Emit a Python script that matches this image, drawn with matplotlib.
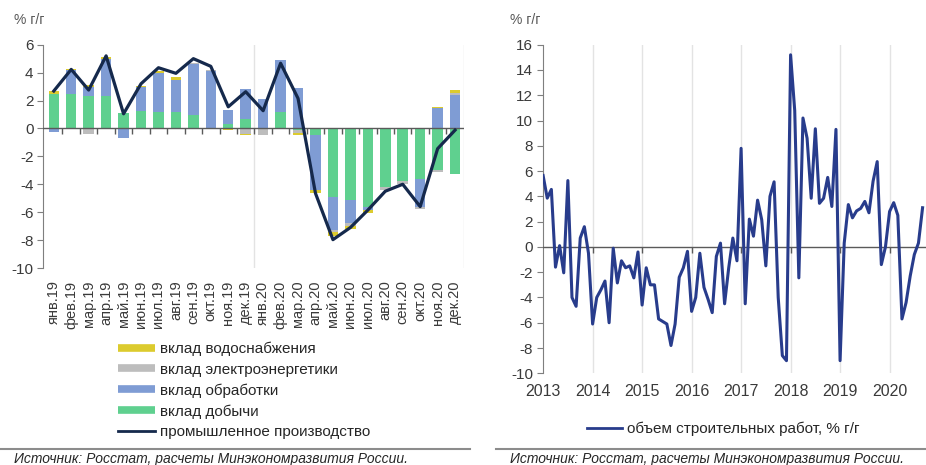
import matplotlib
matplotlib.use("Agg")
import matplotlib.pyplot as plt
from matplotlib.lines import Line2D
import numpy as np

plt.rcParams["font.family"] = ["Liberation Sans", "DejaVu Sans"]
plt.rcParams["axes.unicode_minus"] = False

# ---- left panel: contributions to industrial production, % y/y ----
months = ["янв.19", "фев.19", "мар.19", "апр.19", "май.19", "июн.19",
          "июл.19", "авг.19", "сен.19", "окт.19", "ноя.19", "дек.19",
          "янв.20", "фев.20", "мар.20", "апр.20", "май.20", "июн.20",
          "июл.20", "авг.20", "сен.20", "окт.20", "ноя.20", "дек.20"]
mining = [2.5, 2.5, 2.35, 2.3, 1.1, 1.25, 1.2, 1.2, 0.95, 0.05, 0.35, 0.65,
          0.05, 1.2, -0.1, -0.45, -4.9, -5.15, -5.6, -4.2, -3.8, -3.6, -3.0, -3.3]
manufacturing = [-0.25, 1.7, 0.65, 2.65, -0.7, 1.7, 2.8, 2.3, 3.7, 4.1, 1.0, 2.2,
                 2.05, 3.7, 2.9, -3.95, -2.4, -1.65, -0.25, 0.05, 0.0, -2.0, 1.45, 2.4]
power = [0.0, 0.0, -0.4, 0.0, 0.0, 0.0, 0.0, 0.0, 0.05, 0.05, 0.0, -0.4,
         -0.5, 0.0, -0.2, 0.0, -0.15, -0.2, 0.0, -0.2, -0.15, -0.2, -0.12, 0.15]
water = [0.15, 0.08, 0.08, 0.2, 0.0, 0.08, 0.1, 0.2, 0.0, 0.0, -0.08, -0.05,
         0.0, 0.0, -0.15, -0.25, -0.25, -0.2, -0.2, 0.0, 0.0, 0.0, 0.1, 0.2]
industry = [2.68, 4.23, 2.75, 5.2, 1.05, 3.2, 4.35, 3.95, 5.0, 4.45, 1.55, 2.63,
            1.27, 4.67, 2.15, -4.65, -7.97, -7.1, -5.85, -4.5, -4.0, -5.6, -1.45, -0.12]

# ---- right panel: construction volume, % y/y, monthly from Jan 2013 ----
years = ["2013", "2014", "2015", "2016", "2017", "2018", "2019", "2020"]
construction = [5.65, 3.86, 4.55, -1.6, 0.1, -2.05, 5.25, -4.0, -4.7, 0.7, 1.6, -0.5,
                -6.1, -4.0, -3.4, -2.7, -6.0, -0.1, -2.85, -1.1, -1.65, -1.5, -2.45, -0.4,
                -4.6, -1.65, -3.0, -3.0, -5.7, -5.9, -6.1, -7.8, -6.1, -2.4, -1.65, -0.35,
                -5.1, -4.0, -0.5, -3.2, -4.15, -5.2, -0.75, 0.3, -4.5, -1.65, 0.7, -1.1,
                7.8, -4.5, 2.2, 0.85, 3.7, 2.15, -1.5, 4.0, 5.15, -4.0, -8.6, -9.0,
                15.2, 10.8, -2.45, 10.2, 8.6, 3.85, 9.35, 3.45, 3.85, 5.5, 3.2, 9.3,
                -9.0, 0.3, 3.35, 2.3, 2.85, 3.05, 3.6, 2.7, 5.2, 6.75, -1.4, 0.0,
                2.8, 3.5, 2.5, -5.7, -4.4, -2.3, -0.6, 0.3, 3.1]

W, H = 926, 465
C_YELLOW = "#DCCB2E"
C_GRAY = "#BDBDBD"
C_BLUE = "#7F9CD4"
C_GREEN = "#5FD08F"
C_NAVY = "#15294C"
C_LINE2 = "#283C8C"
C_TEXT = "#3A3A3A"
C_AXIS = "#7F7F7F"
C_ZERO = "#5A5A5A"
C_GRID = "#E3E3E3"

fig = plt.figure(figsize=(W / 100, H / 100), dpi=100)


def px_axes(x0, y0, x1, y1):
    return fig.add_axes([x0 / W, 1 - y1 / H, (x1 - x0) / W, (y1 - y0) / H])


def style_y(ax):
    for s in ("top", "right", "bottom"):
        ax.spines[s].set_visible(False)
    ax.spines["left"].set_color(C_AXIS)
    ax.tick_params(axis="y", length=4, color=C_AXIS, labelsize=11,
                   labelcolor=C_TEXT, pad=3)


# left panel
ax1 = px_axes(43.3, 44.7, 463.8, 268)
x = np.arange(len(months))
pos = np.zeros(len(months))
neg = np.zeros(len(months))
for vals, col in [(mining, C_GREEN), (manufacturing, C_BLUE),
                  (power, C_GRAY), (water, C_YELLOW)]:
    v = np.array(vals)
    base = np.where(v >= 0, pos, neg)
    ax1.bar(x, v, bottom=base, width=0.6, color=col, zorder=2)
    pos += np.clip(v, 0, None)
    neg += np.clip(v, None, 0)
ax1.plot(x, industry, color=C_NAVY, lw=2.3, zorder=4)
ax1.axhline(0, color=C_ZERO, lw=1, zorder=3)
for g in (11.5, 23.5):
    ax1.axvline(g, color=C_GRID, lw=1, zorder=0)
ax1.set_xlim(-0.6, 23.5)
ax1.set_ylim(-10, 6)
ax1.set_yticks(np.arange(-10, 7, 2))
style_y(ax1)
ax1.set_xticks(x)
ax1.set_xticklabels(months, rotation=90, fontsize=10.5, color=C_TEXT)
ax1.tick_params(axis="x", length=0, pad=9)

sec1 = ax1.secondary_xaxis(10 / 16)
sec1.set_xticks(np.arange(0.5, 23, 1))
sec1.xaxis.set_ticks_position("bottom")
sec1.tick_params(axis="x", length=4, width=1, color=C_ZERO, labelbottom=False,
                 labeltop=False, direction="out")
for s in sec1.spines.values():
    s.set_visible(False)

# right panel
ax2 = px_axes(542.7, 44.7, 930, 373.3)
t = np.arange(len(construction))
ax2.plot(t, construction, color=C_LINE2, lw=2.2, zorder=4)
ax2.axhline(0, color=C_ZERO, lw=1, zorder=3)
for g in range(12, 96, 12):
    ax2.axvline(g, color=C_GRID, lw=1, zorder=0)
ax2.set_xlim(-0.1, 93.8)
ax2.set_ylim(-10, 16)
ax2.set_yticks(np.arange(-10, 17, 2))
style_y(ax2)
ax2.set_xticks(np.arange(0, 12 * len(years), 12))
ax2.set_xticklabels(years, fontsize=11.5, color=C_TEXT)
ax2.tick_params(axis="x", length=0, pad=8)

sec2 = ax2.secondary_xaxis(10 / 26)
sec2.set_xticks(np.arange(12, 96, 12))
sec2.xaxis.set_ticks_position("bottom")
sec2.tick_params(axis="x", length=4, width=1, color=C_ZERO, labelbottom=False,
                 labeltop=False, direction="out")
for s in sec2.spines.values():
    s.set_visible(False)

# unit labels
for xp in (14, 510):
    fig.text(xp / W, 1 - 20 / H, "% г/г", fontsize=10, color="#595959",
             va="center", ha="left",
             family=["Liberation Sans Narrow", "Liberation Sans", "DejaVu Sans"])

# legends
h1 = [Line2D([], [], color=C_YELLOW, lw=5.5, solid_capstyle="butt"),
      Line2D([], [], color=C_GRAY, lw=5.5, solid_capstyle="butt"),
      Line2D([], [], color=C_BLUE, lw=5.5, solid_capstyle="butt"),
      Line2D([], [], color=C_GREEN, lw=5.5, solid_capstyle="butt"),
      Line2D([], [], color=C_NAVY, lw=2)]
l1 = ["вклад водоснабжения", "вклад электроэнергетики", "вклад обработки",
      "вклад добычи", "промышленное производство"]
fig.legend(h1, l1, loc="upper left", bbox_to_anchor=(118 / W, 1 - 342 / H),
           frameon=False, fontsize=11, handlelength=2.4, handletextpad=0.35,
           labelspacing=0.42, borderpad=0, borderaxespad=0, labelcolor="#262626")

fig.legend([Line2D([], [], color=C_LINE2, lw=2)], ["объем строительных работ, % г/г"],
           loc="upper left", bbox_to_anchor=(587 / W, 1 - 422 / H),
           frameon=False, fontsize=11, handlelength=2.3, handletextpad=0.3,
           borderpad=0, borderaxespad=0, labelcolor="#262626")

# source separators and notes
for x0, x1, xt in ((0, 470, 14), (496, 926, 510)):
    fig.add_artist(Line2D([x0 / W, x1 / W], [1 - 449 / H] * 2,
                          transform=fig.transFigure, color="#8C8C8C", lw=1.5))
    fig.text(xt / W, 1 - 452 / H, "Источник: Росстат, расчеты Минэкономразвития России.",
             fontsize=10, style="italic", color="#262626", va="top", ha="left")

fig.savefig("out.png", dpi=100)
